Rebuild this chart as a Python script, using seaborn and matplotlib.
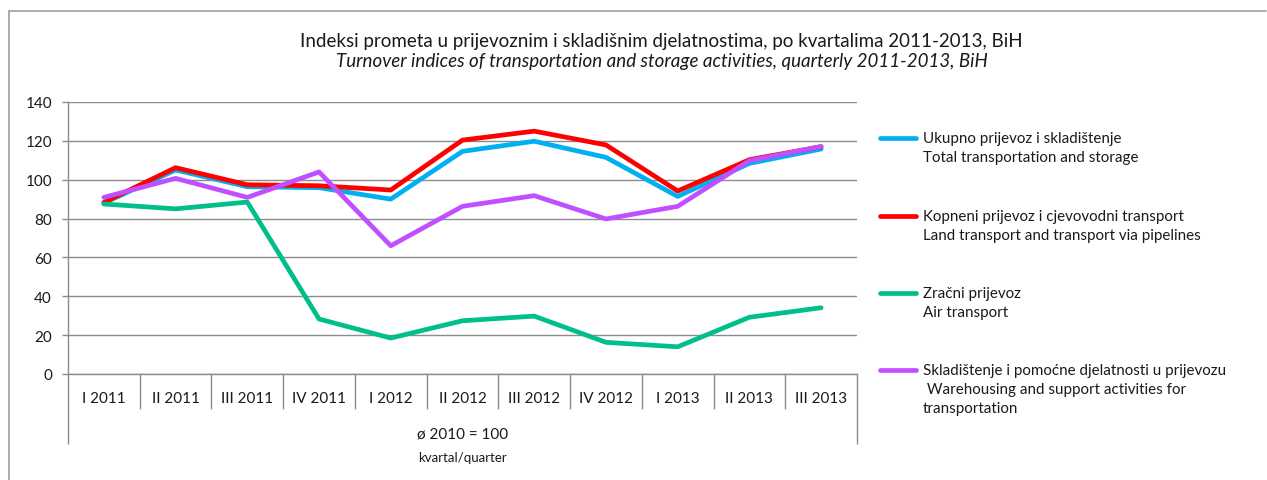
import matplotlib
matplotlib.use("Agg")
import matplotlib.pyplot as plt
from matplotlib.lines import Line2D
import seaborn as sns
import pandas as pd

quarters = ["I 2011", "II 2011", "III 2011", "IV 2011", "I 2012", "II 2012",
            "III 2012", "IV 2012", "I 2013", "II 2013", "III 2013"]
total = [88.0, 105.0, 96.4, 95.9, 90.0, 114.6, 119.8, 111.5, 91.4, 108.4, 115.8]
land = [88.3, 106.2, 97.4, 96.9, 94.7, 120.4, 125.0, 117.9, 94.2, 110.3, 117.0]
air = [87.5, 85.0, 88.5, 28.3, 18.5, 27.4, 29.8, 16.3, 14.0, 29.2, 34.1]
warehousing = [90.9, 100.7, 90.9, 104.0, 66.0, 86.3, 91.8, 79.8, 86.3, 109.8, 117.1]

series_names = ["total", "land", "air", "warehousing"]
legend_labels = [
    "\nUkupno prijevoz i skladištenje\nTotal transportation and storage",
    "\nKopneni prijevoz i cjevovodni transport\nLand transport and transport via pipelines",
    "\nZračni prijevoz\nAir transport",
    "\n\nSkladištenje i pomoćne djelatnosti u prijevozu\n Warehousing and support activities for\ntransportation",
]
colors = ["#00B0F0", "#FF0000", "#00BF8A", "#C050FF"]

rows = []
for name, vals in zip(series_names, [total, land, air, warehousing]):
    for i, (q, v) in enumerate(zip(quarters, vals)):
        rows.append({"pos": i, "quarter": q, "series": name, "value": v})
df = pd.DataFrame(rows)

sns.set_theme(style="white")
plt.rcParams["font.family"] = ["Lato", "DejaVu Sans"]

fig = plt.figure(figsize=(12.67, 4.81), dpi=100)
W, H = 1267, 481
ax = fig.add_axes([68 / W, 1 - 375 / H, (857 - 68) / W, (375 - 103) / H])

LW = 3.4
sns.lineplot(data=df, x="pos", y="value", hue="series", hue_order=series_names,
             palette=colors, linewidth=LW, ax=ax, legend=False, sort=False)

ax.set_xlim(-0.5, len(quarters) - 0.5)
ax.set_ylim(0, 140)
ax.set_yticks(range(0, 141, 20))
ax.yaxis.grid(True, color="#8c8c8c", linewidth=1.0)
ax.set_axisbelow(True)
for s in ["top", "right"]:
    ax.spines[s].set_visible(False)
for s in ["left", "bottom"]:
    ax.spines[s].set_color("#8c8c8c")
    ax.spines[s].set_linewidth(1.0)

ax.set_xticks(range(len(quarters)))
ax.set_xticklabels(quarters, fontsize=11)
ax.set_xticks([i - 0.5 for i in range(1, len(quarters))], minor=True)
ax.tick_params(axis="x", which="both", bottom=True)
ax.tick_params(axis="x", which="major", length=0, pad=12, colors="#1a1a1a")
ax.tick_params(axis="x", which="minor", length=25, width=1.0, color="#8c8c8c", direction="out")
ax.tick_params(axis="y", which="major", length=4.5, width=1.0, color="#8c8c8c",
               left=True, pad=7, labelsize=11, labelcolor="#1a1a1a")
ax.set_xlabel("")
ax.set_ylabel("")

# outer separators of the multi-level category axis
ax.vlines([-0.5, len(quarters) - 0.5], -0.257, 0, transform=ax.get_xaxis_transform(),
          colors="#8c8c8c", linewidth=1.0, clip_on=False)

ax.text(0.5, -0.22, "ø 2010 = 100", transform=ax.transAxes, ha="center", va="center",
        fontsize=11, color="#1a1a1a")
ax.text(0.5, -0.305, "kvartal/quarter", transform=ax.transAxes, ha="center", va="center",
        fontsize=9.5, color="#1a1a1a")

fig.text(0.5 * (298 + 1025) / W, 1 - 42 / H,
         "Indeksi prometa u prijevoznim i skladišnim djelatnostima, po kvartalima 2011-2013, BiH",
         ha="center", va="center", fontsize=13.5, color="#1a1a1a")
fig.text(0.5 * (298 + 1025) / W, 1 - 62 / H,
         "Turnover indices of transportation and storage activities, quarterly 2011-2013, BiH",
         ha="center", va="center", fontsize=13.5, style="italic", color="#1a1a1a")

# legend, one entry per block so each swatch sits on the first text line
first_line_y = [143, 221, 298, 376]
line_h = 20
for lab, y0, c in zip(legend_labels, first_line_y, colors):
    lead = len(lab) - len(lab.lstrip("\n"))
    top = y0 - lead * line_h - line_h / 2
    proxy = Line2D([], [], color=c, linewidth=LW, solid_capstyle="round")
    leg = fig.legend(handles=[proxy], labels=[lab], loc="upper left",
                     bbox_to_anchor=(880 / W, 1 - top / H), frameon=False,
                     fontsize=10.9, handlelength=2.4, handletextpad=0.45,
                     borderpad=0, borderaxespad=0)
    for t in leg.get_texts():
        t.set_linespacing(1.45)
        t.set_color("#1a1a1a")

# chart frame (top and left edges)
fig.add_artist(Line2D([8.5 / W, 8.5 / W], [0, 1 - 12 / H], transform=fig.transFigure,
                      color="#a0a0a0", linewidth=1.2))
fig.add_artist(Line2D([8.5 / W, 1266 / W], [1 - 12 / H, 1 - 12 / H], transform=fig.transFigure,
                      color="#a0a0a0", linewidth=1.2))

fig.savefig("out.png", dpi=100)
